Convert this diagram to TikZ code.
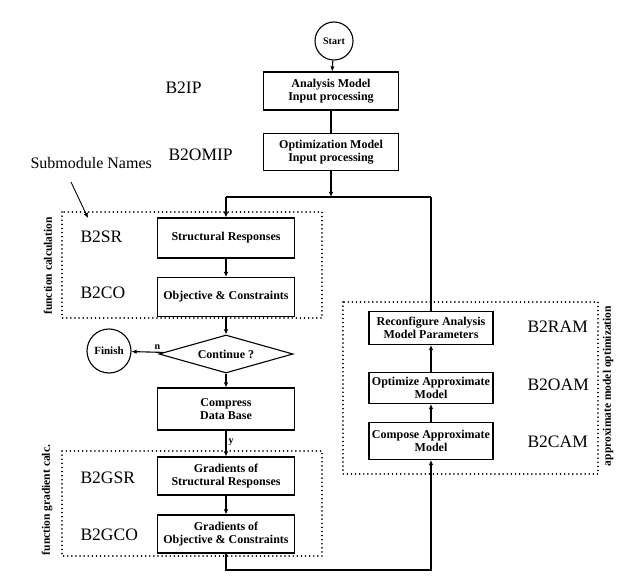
\documentclass[tikz,border=0pt]{standalone}
\usepackage{fontspec}
\setmainfont{Liberation Serif}
\usetikzlibrary{shapes.geometric,arrows.meta}

\begin{document}
\begin{tikzpicture}[x=1pt, y=-1pt, line width=1.1pt,
  >={Latex[length=5pt,width=4.5pt]},
  box/.style={draw, rectangle, align=center, inner sep=1pt,
    font=\bfseries\fontsize{12}{13.5}\selectfont},
  term/.style={draw, circle, inner sep=0pt, font=\bfseries\fontsize{10}{12}\selectfont},
  group/.style={dash pattern=on 0.1pt off 4pt, line cap=round, line width=1.6pt},
  modname/.style={anchor=west, inner sep=0pt, font=\fontsize{17.5}{20}\selectfont},
  side/.style={rotate=90, inner sep=0pt, font=\bfseries\fontsize{11.5}{13}\selectfont},
  lbl/.style={inner sep=2pt, font=\bfseries\fontsize{10}{12}\selectfont}]
\useasboundingbox (0,0) rectangle (618,577);

% module groups
\draw[group] (62,212) rectangle (322,318);
\draw[group] (62,451) rectangle (322,556);
\draw[group] (343,302) rectangle (598,474);
\node[side] (fcalc) at (48,266) {function calculation};
\node[side] (gcalc) at (47,500) {function gradient calc.};
\node[side] (acalc) at (608,386) {approximate model optimization};

% input processing
\node[term, minimum size=38pt] (start) at (334,41) {Start};
\node[box, minimum width=135pt, minimum height=38pt] (ana) at (331,91) {Analysis Model\\Input processing};
\node[box, minimum width=135pt, minimum height=37pt] (opt) at (331,152) {Optimization Model\\Input processing};
\node[modname] (bip) at (165,88) {B2IP};
\node[modname] (bomip) at (168,155) {B2OMIP};
\node[modname, font=\fontsize{16}{18}\selectfont] (sub) at (30,163) {Submodule Names};

% main loop
\node[box, minimum width=137pt, minimum height=40pt] (sr) at (226,238) {Structural Responses};
\node[box, minimum width=137pt, minimum height=39pt] (obj) at (226,297) {Objective \& Constraints};
\node[draw, diamond, aspect=3.5, inner sep=0pt, minimum width=134pt, minimum height=38pt,
  font=\bfseries\fontsize{12}{13}\selectfont] (cont) at (226,354) {Continue ?};
\node[term, minimum size=44pt, font=\bfseries\fontsize{11}{13}\selectfont] (fin) at (109,351) {Finish};
\node[box, minimum width=137pt, minimum height=42pt] (comp) at (226,409) {Compress\\Data Base};
\node[box, minimum width=137pt, minimum height=38pt] (gsr) at (226,476) {Gradients of\\Structural Responses};
\node[box, minimum width=137pt, minimum height=38pt] (gco) at (226,534) {Gradients of\\Objective \& Constraints};
\node[modname] (bsr) at (80,237) {B2SR};
\node[modname] (bco) at (80,293) {B2CO};
\node[modname] (bgsr) at (80,478) {B2GSR};
\node[modname] (bgco) at (80,535) {B2GCO};

% approximate model
\node[box, minimum width=124pt, minimum height=33pt] (ram) at (431,328) {Reconfigure Analysis\\Model Parameters};
\node[box, minimum width=124pt, minimum height=31pt] (oam) at (431,388) {Optimize Approximate\\Model};
\node[box, minimum width=124pt, minimum height=37pt] (cam) at (431,441) {Compose Approximate\\Model};
\node[modname] (bram) at (527,327) {B2RAM};
\node[modname] (boam) at (527,385) {B2OAM};
\node[modname] (bcam) at (527,442) {B2CAM};

% joints
\coordinate (jmid) at (opt.south |- 0,197);
\coordinate (jleft) at (sr.north |- 0,197);
\coordinate (jright) at (ram.north |- 0,197);
\coordinate (jlow) at (gco.south |- 0,570);
\coordinate (jlowr) at (cam.south |- 0,570);
\coordinate (subtip) at (88,218);
\coordinate (subfoot) at (71,182);

% connectors
\draw[->] (start) -- (ana);
\draw (ana) -- (opt);
\draw[->] (opt) -- (jmid);
\draw (jright) -- (jleft);
\draw[->] (jleft) -- (sr);
\draw (ram) -- (jright);
\draw[->] (sr) -- (obj);
\draw[->] (obj) -- (cont);
\draw[->] (cont) -- node[lbl, above, pos=0.2] {n} (fin);
\draw[->] (cont) -- (comp);
\draw[->] (comp) -- node[lbl, right, pos=0.45] {y} (gsr);
\draw[->] (gsr) -- (gco);
\draw[->] (gco) -- (jlow) -- (jlowr) -- (cam);
\draw[->] (cam) -- (oam);
\draw[->] (oam) -- (ram);
\draw[->, line width=0.9pt] (subfoot) -- (subtip);
\end{tikzpicture}
\end{document}
